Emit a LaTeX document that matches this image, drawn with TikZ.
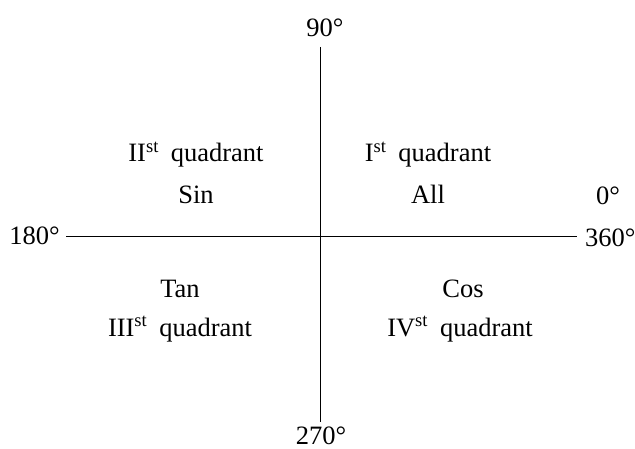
\documentclass[tikz,border=0pt]{standalone}
\usepackage{fontspec}
\setmainfont{Liberation Serif}
\usetikzlibrary{positioning}
\tikzset{
  deglabel/.style={inner sep=0pt, anchor=base, font=\fontsize{26.5}{32}\selectfont},
  quadlabel/.style={inner sep=0pt, anchor=base, font=\fontsize{26.5}{32}\selectfont},
  axisline/.style={line width=0.9pt},
}
\newcommand{\quadname}[1]{#1\textsuperscript{st}\hspace{0.45em}quadrant}

\begin{document}
\begin{tikzpicture}[x=1pt,y=-1pt]
  \useasboundingbox (0,0) rectangle (635,449);
  % axis ends
  \coordinate (top) at (320,47);
  \coordinate (bottom) at (320,422);
  \coordinate (left) at (66,236);
  \coordinate (right) at (577,236);
  \draw[axisline] (left) -- (right);
  \draw[axisline] (top) -- (bottom);
  % degree marks
  \node[deglabel] (deg90) at (325,37) {90°};
  \node[deglabel] (deg270) at (321,444) {270°};
  \node[deglabel, anchor=base east] (deg180) at (60,245) {180°};
  \node[deglabel, anchor=base west] (deg360) at (585,247) {360°};
  \node[deglabel] (deg0) at (608,205) {0°};
  % quadrants
  \node[quadlabel] (q2) at (196,162) {\quadname{II}};
  \node[quadlabel] (sin) at (196,204) {Sin};
  \node[quadlabel] (q1) at (428,162) {\quadname{I}};
  \node[quadlabel] (all) at (428,204) {All};
  \node[quadlabel] (tan) at (180,298) {Tan};
  \node[quadlabel] (q3) at (180,336) {\quadname{III}};
  \node[quadlabel] (cos) at (463,298) {Cos};
  \node[quadlabel] (q4) at (460,336) {\quadname{IV}};
\end{tikzpicture}
\end{document}
